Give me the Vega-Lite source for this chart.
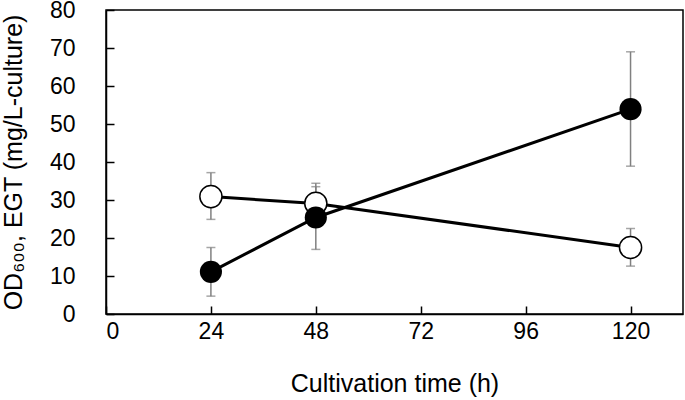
{
  "$schema": "https://vega.github.io/schema/vega-lite/v6.json",
  "width": 577,
  "height": 304,
  "autosize": {"type": "none"},
  "padding": {"left": 106, "top": 10, "right": 2, "bottom": 86},
  "background": "white",
  "config": {
    "font": "Liberation Sans",
    "view": {"stroke": "black", "strokeWidth": 1.5},
    "axis": {
      "grid": false,
      "domainColor": "black",
      "domainWidth": 1.5,
      "tickColor": "black",
      "tickWidth": 1.5,
      "labelFont": "Liberation Sans",
      "titleFont": "Liberation Sans",
      "labelFontSize": 23,
      "titleFontSize": 25,
      "labelColor": "black",
      "titleColor": "black",
      "titleFontWeight": "normal"
    },
    "axisY": {
      "values": [0, 10, 20, 30, 40, 50, 60, 70, 80],
      "title": "OD₆₀₀, EGT (mg/L-culture)",
      "tickSize": -8,
      "labelPadding": 39,
      "titlePadding": 23
    }
  },
  "data": {
    "values": [
      {"time": 24, "series": "open", "mean": 30.9, "lo": 24.9, "hi": 37.2},
      {"time": 48, "series": "open", "mean": 29.1, "lo": 23.8, "hi": 34.4},
      {"time": 120, "series": "open", "mean": 17.5, "lo": 12.6, "hi": 22.5},
      {"time": 24, "series": "filled", "mean": 11.1, "lo": 4.7, "hi": 17.5},
      {"time": 48, "series": "filled", "mean": 25.4, "lo": 17.0, "hi": 33.5},
      {"time": 120, "series": "filled", "mean": 53.9, "lo": 38.9, "hi": 69.0}
    ]
  },
  "encoding": {
    "x": {
      "field": "time",
      "type": "quantitative",
      "scale": {"domain": [0, 132], "nice": false},
      "axis": {
        "values": [0, 24, 48, 72, 96, 120],
        "title": "Cultivation time (h)",
        "tickSize": -8,
        "labelPadding": 14,
        "titlePadding": 28
      }
    }
  },
  "layer": [
    {
      "mark": {"type": "rule", "color": "#808080", "strokeWidth": 1.5},
      "encoding": {
        "y": {"field": "lo", "type": "quantitative", "scale": {"domain": [0, 80], "nice": false}, "title": "OD₆₀₀, EGT (mg/L-culture)"},
        "y2": {"field": "hi"}
      }
    },
    {
      "mark": {"type": "tick", "color": "#808080", "size": 9, "thickness": 1.5, "orient": "horizontal"},
      "encoding": {
        "y": {"field": "lo", "type": "quantitative", "title": "OD₆₀₀, EGT (mg/L-culture)"}
      }
    },
    {
      "mark": {"type": "tick", "color": "#808080", "size": 9, "thickness": 1.5, "orient": "horizontal"},
      "encoding": {
        "y": {"field": "hi", "type": "quantitative", "title": "OD₆₀₀, EGT (mg/L-culture)"}
      }
    },
    {
      "mark": {"type": "line", "color": "black", "strokeWidth": 3},
      "encoding": {
        "y": {"field": "mean", "type": "quantitative", "title": "OD₆₀₀, EGT (mg/L-culture)"},
        "detail": {"field": "series"}
      }
    },
    {
      "mark": {"type": "point", "filled": false, "size": 490, "strokeWidth": 1.5, "opacity": 1},
      "transform": [{"filter": "datum.series == 'open'"}],
      "encoding": {
        "y": {"field": "mean", "type": "quantitative", "title": "OD₆₀₀, EGT (mg/L-culture)"},
        "fill": {"value": "white"},
        "stroke": {"value": "black"}
      }
    },
    {
      "mark": {"type": "point", "filled": true, "size": 490, "opacity": 1},
      "transform": [{"filter": "datum.series == 'filled'"}],
      "encoding": {
        "y": {"field": "mean", "type": "quantitative", "title": "OD₆₀₀, EGT (mg/L-culture)"},
        "color": {"value": "black"}
      }
    }
  ]
}
